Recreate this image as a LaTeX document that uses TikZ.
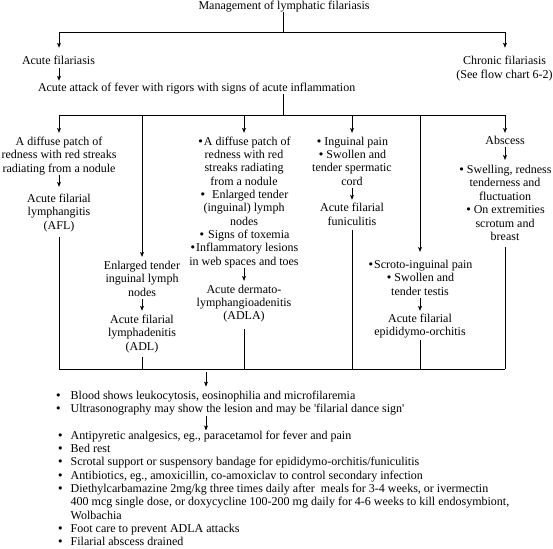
\documentclass[tikz,border=0pt]{standalone}
\usepackage{fontspec}
\setmainfont{Liberation Serif}
\newfontfamily\bulfont{DejaVu Sans}
\usetikzlibrary{arrows.meta}
\newcommand\bul{{\bulfont\fontsize{11}{11}\selectfont •}}
\begin{document}
\begin{tikzpicture}[x=1pt,y=-1pt,
  txt/.style={align=center, inner sep=0pt, outer sep=0pt, font=\fontsize{12}{13.45}\selectfont, anchor=base},
  lst/.style={align=left, inner sep=0pt, outer sep=0pt, font=\fontsize{12}{13.3}\selectfont, anchor=base west},
  ln/.style={line width=0.65pt},
  arr/.style={line width=0.65pt, -{Stealth[length=4.8pt,width=3.8pt,inset=1pt]}},
]
% note: anchor=base of a multi-line node is the baseline of its last line
\useasboundingbox (0,0) rectangle (553,548);
\fill[white] (0,0) rectangle (553,548);

% top level
\node[txt] (title) at (284,9.5) {Management of lymphatic filariasis};
\coordinate (t0) at (283,32);
\coordinate (tl) at (59,32);
\coordinate (tr) at (505,32);
\node[txt, anchor=base west] (acute) at (22,65) {Acute filariasis};
\node[txt] (chronic) at (504.5,78.4) {Chronic filariasis\\(See flow chart 6-2)};
\node[txt, anchor=base west] (attack) at (38,91.7) {Acute attack of fever with rigors with signs of acute inflammation};

\draw[ln] (title.south -| t0) -- (t0);
\draw[ln] (tl) -- (tr);
\draw[arr, shorten >=8.8pt] (tl) -- (acute.north -| tl);
\draw[arr, shorten >=8.8pt] (tr) -- (chronic.north -| tr);
\draw[arr, shorten <=3pt, shorten >=2.5pt] (acute.south -| tl) -- (attack.north -| tl);

% second bus
\coordinate (m2) at (283,115);
\coordinate (b1) at (59,115);
\coordinate (b2) at (142,115);
\coordinate (b3) at (244,115);
\coordinate (b4) at (352,115);
\coordinate (b5) at (420,115);
\coordinate (b6) at (505,115);
\draw[ln] (attack.south -| m2) -- (m2);
\draw[ln] (b1) -- (b6);

% bottom bus
\coordinate (e1) at (59,369);
\coordinate (e2) at (142,369);
\coordinate (e3) at (244,369);
\coordinate (e4) at (352,369);
\coordinate (e5) at (420,369);
\coordinate (e6) at (505,369);
\coordinate (e0) at (206,369);
\draw[ln] (e1) -- (e6);

% column 1
\node[txt] (c1a) at (59,172) {A diffuse patch of\\redness with red streaks\\radiating from a nodule};
\node[txt] (c1b) at (59,229) {Acute filarial\\lymphangitis\\(AFL)};
\draw[arr, shorten >=3.8pt] (b1) -- (c1a.north);
\draw[arr, shorten <=0.8pt, shorten >=6.8pt] (c1a.south) -- (c1b.north);
\draw[ln, shorten <=5pt] (c1b.south) -- (e1);

% column 2
\node[txt] (c2a) at (142,296.2) {Enlarged tender\\inguinal lymph\\nodes};
\node[txt] (c2b) at (142,350.2) {Acute filarial\\lymphadenitis\\(ADL)};
\draw[arr, shorten >=4.1pt] (b2) -- (c2a.north);
\draw[arr, shorten <=3pt, shorten >=4.1pt] (c2a.south) -- (c2b.north);
\draw[ln, shorten <=4.6pt] (c2b.south) -- (e2);

% column 3
\node[txt, font=\fontsize{12}{13.33}\selectfont] (c3a) at (244,265) {\bul A diffuse patch of\\redness with red\\streaks radiating\\from a nodule\\\bul\enspace Enlarged tender\\(inguinal) lymph\\nodes\\\bul\ Signs of toxemia\\\bul Inflammatory lesions\\in web spaces and toes};
\node[txt] (c3b) at (244,319.9) {Acute dermato-\\lymphangioadenitis\\(ADLA)};
\draw[arr, shorten >=3.8pt] (b3) -- (c3a.north);
\draw[arr, shorten <=0.5pt, shorten >=3.8pt] (c3a.south) -- (c3b.north);
\draw[ln, shorten <=6.5pt] (c3b.south) -- (e3);

% column 4
\node[txt] (c4a) at (352,185.35) {\bul\,Inguinal pain\\\bul\,Swollen and\\tender spermatic\\cord};
\node[txt] (c4b) at (352,225.15) {Acute filarial\\funiculitis};
\draw[arr, shorten >=3.8pt] (b4) -- (c4a.north);
\draw[arr, shorten <=2.5pt, shorten >=3.5pt] (c4a.south) -- (c4b.north);
\draw[ln, shorten <=5pt] (c4b.south) -- (e4);

% column 5
\node[txt] (c5a) at (420,295.2) {\bul Scroto-inguinal pain\\\bul\,Swollen and\\tender testis};
\node[txt] (c5b) at (420,335.75) {Acute filarial\\epididymo-orchitis};
\draw[arr, shorten >=8.1pt] (b5) -- (c5a.north);
\draw[arr, shorten <=3pt, shorten >=3pt] (c5a.south) -- (c5b.north);
\draw[ln, shorten <=1.7pt] (c5b.south) -- (e5);

% column 6
\node[txt] (abs) at (505,145) {Abscess};
\node[txt] (c6b) at (505,240.55) {\bul\,Swelling, redness\\tenderness and\\fluctuation\\\bul\,On extremities\\scrotum and\\breast};
\draw[arr, shorten >=3.8pt] (b6) -- (abs.north);
\draw[arr, shorten <=2pt, shorten >=5pt] (abs.south) -- (c6b.north);
\draw[ln, shorten <=6.7pt] (c6b.south) -- (e6);

% bottom lists
\node[lst] (l1) at (55,412.6) {\makebox[15.7pt][l]{\bul}Blood shows leukocytosis, eosinophilia and microfilaremia\\
\makebox[15.7pt][l]{\bul}Ultrasonography may show the lesion and may be \textquotesingle filarial dance sign\textquotesingle};
\node[lst] (l2) at (57.2,545.6) {\makebox[13.5pt][l]{\bul}Antipyretic analgesics, eg., paracetamol for fever and pain\\
\makebox[13.5pt][l]{\bul}Bed rest\\
\makebox[13.5pt][l]{\bul}Scrotal support or suspensory bandage for epididymo-orchitis/funiculitis\\
\makebox[13.5pt][l]{\bul}Antibiotics, eg., amoxicillin, co-amoxiclav to control secondary infection\\
\makebox[13.5pt][l]{\bul}Diethylcarbamazine 2mg/kg three times daily after\ \ meals for 3-4 weeks, or ivermectin\\
\hspace*{13.5pt}400 mcg single dose, or doxycycline 100-200 mg daily for 4-6 weeks to kill endosymbiont,\\
\hspace*{13.5pt}Wolbachia\\
\makebox[13.5pt][l]{\bul}Foot care to prevent ADLA attacks\\
\makebox[13.5pt][l]{\bul}Filarial abscess drained};
\draw[arr, shorten <=3pt, shorten >=4.3pt] (e0) -- (l1.north -| e0);
\draw[arr, shorten <=1pt, shorten >=0.3pt] (l1.south -| e0) -- (l2.north -| e0);
\end{tikzpicture}
\end{document}
